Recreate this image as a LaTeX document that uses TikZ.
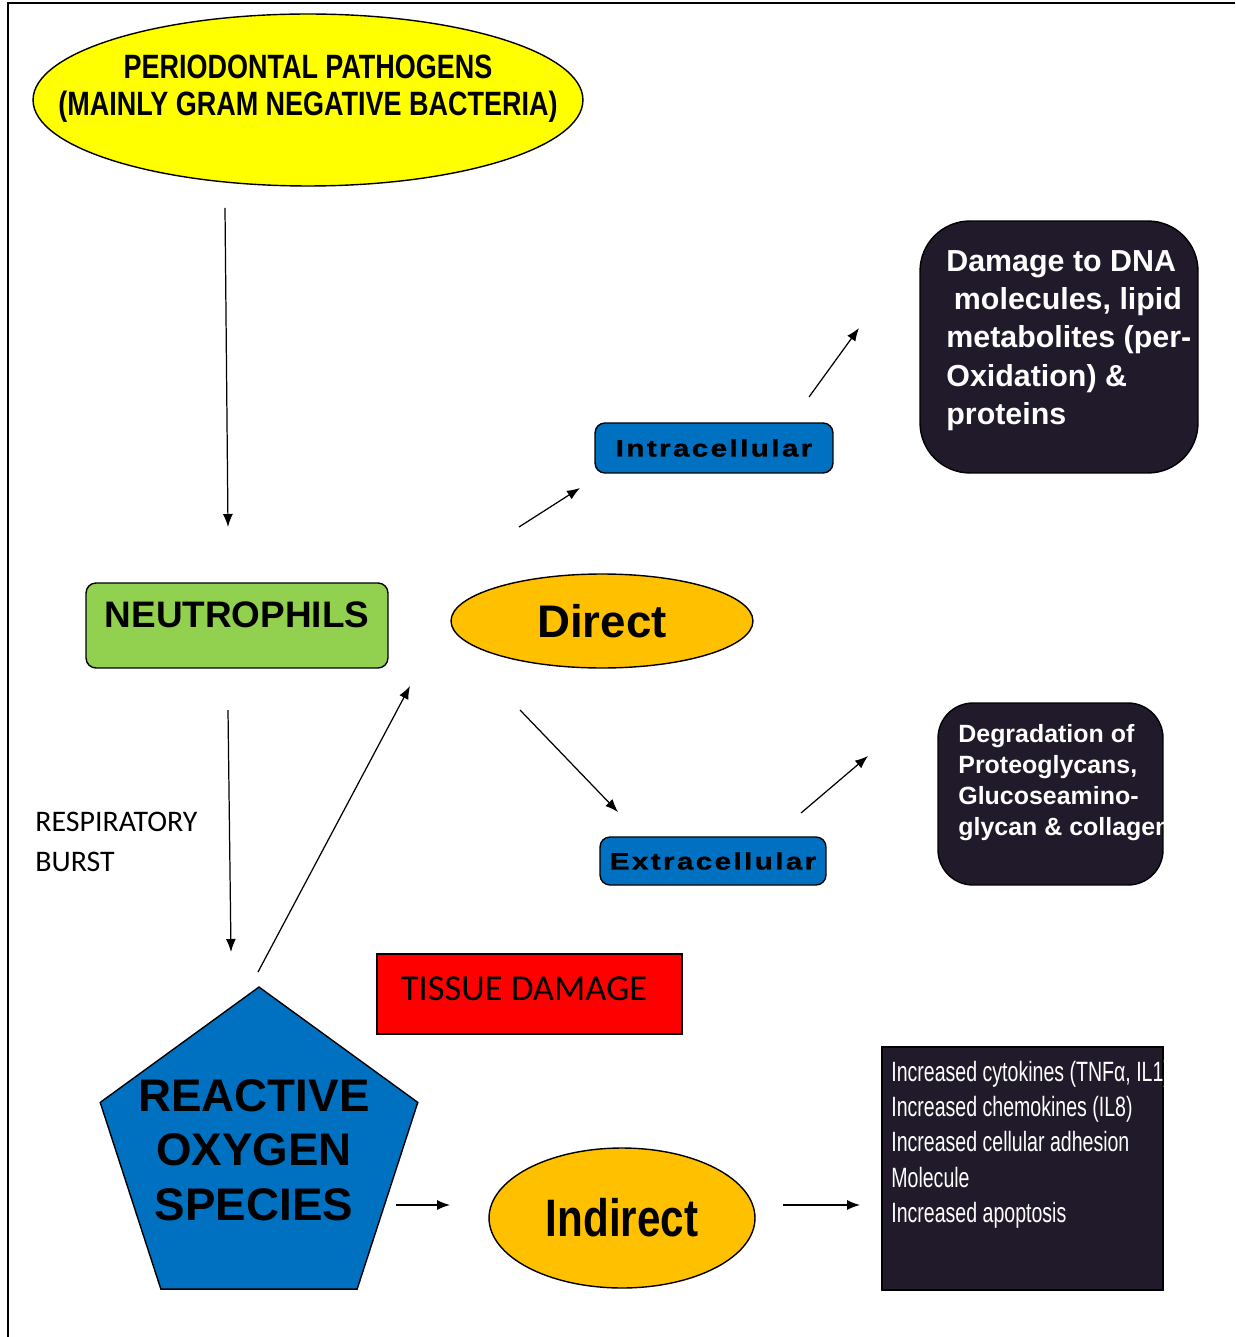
\documentclass[tikz,border=0pt]{standalone}
\usepackage{fontspec}
\setmainfont{Liberation Sans}
\newfontfamily\narrowfont[FakeStretch=0.8]{Liberation Sans}
\newfontfamily\condfont[FakeStretch=0.70]{Liberation Sans}
\newfontfamily\widefont[FakeStretch=1.25,LetterSpace=10,FakeBold=1.2]{Liberation Sans}
\newfontfamily\calfont{Carlito}
\usepackage{tikz}
\usetikzlibrary{arrows.meta,positioning,shapes.geometric}

\definecolor{pathyellow}{HTML}{FFFF00}
\definecolor{neutgreen}{HTML}{92D050}
\definecolor{wayorange}{HTML}{FFC000}
\definecolor{rosblue}{HTML}{0070C0}
\definecolor{darkbox}{RGB}{32,26,42}
\definecolor{damred}{HTML}{FF0000}

\begin{document}
\begin{tikzpicture}[
  x=0.02cm, y=-0.02cm,
  oval/.style={draw, ellipse, line width=0.8pt, inner sep=0pt},
  block/.style={draw, rounded corners=0.2cm, align=center, line width=0.8pt, fill=rosblue},
  dark/.style={draw, fill=darkbox, line width=0.8pt, inner sep=0pt},
  whitetxt/.style={text=white, align=left, inner sep=0pt, anchor=north west},
  arrow/.style={-{Latex[length=2.6mm, width=2mm]}, line width=0.7pt}
]
  \useasboundingbox (0,0) rectangle (1235,1337);
  \draw[line width=1.1pt] (1235,3) -- (8,3) -- (8,1337);

  % top of the chain
  \node[oval, fill=pathyellow, minimum width=11cm, minimum height=3.44cm] (pathogens) at (308,100) {};
  \node[font=\narrowfont\bfseries\fontsize{19.2}{21}\selectfont, align=center] (pathtxt) at (308,89)
    {PERIODONTAL PATHOGENS\\(MAINLY GRAM NEGATIVE BACTERIA)};

  \node[block, fill=neutgreen, minimum width=6.04cm, minimum height=1.7cm, text depth=0.45cm,
        font=\bfseries\fontsize{21}{24}\selectfont] (neutro) at (237,625.5) {NEUTROPHILS};

  \node[font=\calfont\fontsize{17}{22.7}\selectfont, align=left, anchor=west, inner sep=0pt] (burst) at (35,842)
    {RESPIRATORY\\BURST};

  % reactive oxygen species
  \node[draw, regular polygon, regular polygon sides=5, fill=rosblue, line width=0.8pt,
        inner sep=0pt, minimum size=6.68cm] (ros) at (259,1154) {};
  \node[font=\bfseries\fontsize{26}{31}\selectfont, align=center] (rostxt) at (254,1150)
    {REACTIVE\\OXYGEN\\SPECIES};

  % direct pathway
  \node[oval, fill=wayorange, minimum width=6.04cm, minimum height=1.88cm,
        font=\bfseries\fontsize{26}{30}\selectfont] (direct) at (602,621) {Direct};
  \node[block, minimum width=4.76cm, minimum height=1cm, font=\widefont\bfseries\fontsize{13.5}{15}\selectfont]
    (intra) at (714,448) {Intracellular};
  \node[block, minimum width=4.52cm, minimum height=0.96cm, font=\widefont\bfseries\fontsize{13.5}{15}\selectfont]
    (extra) at (713,861) {Extracellular};

  \node[dark, rounded corners=1cm, minimum width=5.56cm, minimum height=5.04cm] (dna) at (1059,347) {};
  \node[whitetxt, font=\bfseries\fontsize{17.3}{21.8}\selectfont] (dnatxt) at (946,250)
    {Damage to DNA\\\hspace*{0.25em}molecules, lipid\\metabolites (per-\\Oxidation) \&\\proteins};

  \node[dark, rounded corners=0.7cm, minimum width=4.5cm, minimum height=3.64cm] (degrad) at (1050.5,794) {};
  \begin{scope}
    \clip[rounded corners=0.7cm] (degrad.south west) rectangle (degrad.north east);
    \node[whitetxt, font=\bfseries\fontsize{14.2}{17.6}\selectfont] (degradtxt) at (958,724)
      {Degradation of\\Proteoglycans,\\Glucoseamino-\\glycan \& collagen};
  \end{scope}

  \node[draw, fill=damred, line width=0.8pt, minimum width=6.1cm, minimum height=1.6cm, text depth=0.2cm,
        font=\calfont\fontsize{20.8}{24}\selectfont] (tissue) at (529.5,994) {TISSUE DAMAGE\hspace*{0.3em}};

  % indirect pathway
  \node[oval, fill=wayorange, minimum width=5.32cm, minimum height=2.8cm,
        font=\narrowfont\bfseries\fontsize{30}{34}\selectfont] (indirect) at (622,1218) {Indirect};

  \node[dark, minimum width=5.62cm, minimum height=4.86cm] (effects) at (1022.5,1168.5) {};
  \begin{scope}
    \clip (effects.south west) rectangle (effects.north east);
    \node[whitetxt, font=\condfont\fontsize{15.9}{20}\selectfont] (effectstxt) at (891,1061)
      {Increased cytokines (TNFα, IL1)\\Increased chemokines (IL8)\\Increased cellular adhesion\\Molecule\\Increased apoptosis};
  \end{scope}

  % free arrow ends
  \coordinate (p1) at (225,208);  \coordinate (n1) at (228,527);
  \coordinate (n2) at (228,710);  \coordinate (r1) at (231,952);
  \coordinate (r2) at (258,972);  \coordinate (d1) at (410,686);
  \coordinate (d2) at (519,527);  \coordinate (i1) at (580,488);
  \coordinate (i2) at (809,397);  \coordinate (k1) at (859,328);
  \coordinate (d3) at (520,710);  \coordinate (e1) at (618,812);
  \coordinate (e2) at (801,813);  \coordinate (g1) at (868,756);
  \coordinate (r3) at (396,1205); \coordinate (x1) at (450,1205);
  \coordinate (x2) at (783,1205); \coordinate (f1) at (860,1205);

  \draw[arrow] (p1) -- (n1);
  \draw[arrow] (n2) -- (r1);
  \draw[arrow] (r2) -- (d1);
  \draw[arrow] (d2) -- (i1);
  \draw[arrow] (i2) -- (k1);
  \draw[arrow] (d3) -- (e1);
  \draw[arrow] (e2) -- (g1);
  \draw[arrow] (r3) -- (x1);
  \draw[arrow] (x2) -- (f1);
\end{tikzpicture}
\end{document}
